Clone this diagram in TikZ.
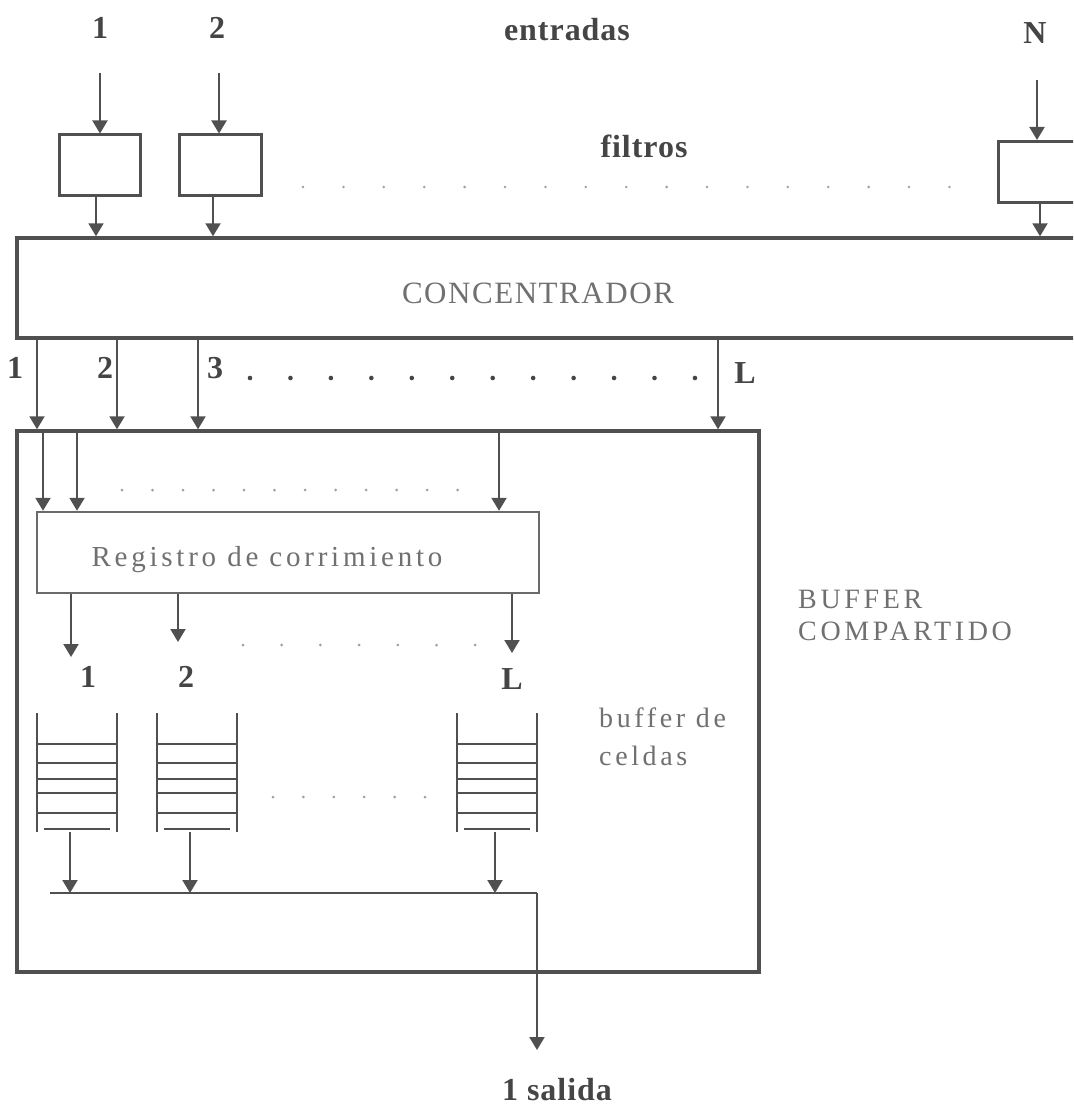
\documentclass[tikz,border=0pt]{standalone}
\usepackage{fontspec}
\setmainfont{Liberation Serif}
\newfontfamily\lblfont[LetterSpace=3]{Liberation Serif}
\newfontfamily\grayfont[LetterSpace=13]{Liberation Serif}
\newfontfamily\concfont[LetterSpace=5]{Liberation Serif}
\usetikzlibrary{arrows.meta,calc}
\definecolor{ln}{HTML}{505050}
\definecolor{tx}{HTML}{454545}
\definecolor{gt}{HTML}{707070}
\definecolor{dt}{HTML}{A0A0A0}
\begin{document}
\begin{tikzpicture}[x=1pt,y=-1pt,
  box/.style={draw=ln,line width=3.4pt,inner sep=0pt},
  fbox/.style={draw=ln,line width=3pt,inner sep=0pt},
  rbox/.style={draw=ln!85,line width=2.4pt,inner sep=0pt},
  arr/.style={draw=ln,line width=2pt,-{Triangle[width=15pt,length=13pt]}},
  qline/.style={draw=ln,line width=2.6pt},
  lbl/.style={font=\lblfont\bfseries\fontsize{32}{36}\selectfont,text=tx,inner sep=0pt},
  gtxt/.style={font=\grayfont\fontsize{29}{32}\selectfont,text=gt,align=left,inner sep=0pt},
  ctxt/.style={font=\concfont\fontsize{31}{34}\selectfont,text=gt,inner sep=0pt}]
\useasboundingbox (0,0) rectangle (1073,1110);
\clip (0,0) rectangle (1073,1110);
\fill[white] (0,0) rectangle (1073,1110);

% top labels
\node[lbl] (i1) at (100,28) {1};
\node[lbl] (i2) at (217,28) {2};
\node[lbl] (ent) at (567,30) {entradas};
\node[lbl] (iN) at (1035,33) {N};
\node[lbl] (filt) at (644,146) {filtros};

% filters
\node[fbox,minimum width=81pt,minimum height=60pt] (f1) at (99.5,165) {};
\node[fbox,minimum width=82pt,minimum height=60pt] (f2) at (220,165) {};
\node[fbox,minimum width=88pt,minimum height=61pt] (fN) at (1042,172) {};
\coordinate (s1) at (100,73);
\coordinate (s2) at (219,73);
\coordinate (sN) at (1037,80);
\draw[arr] (s1) -- (100,0 |- f1.north);
\draw[arr] (s2) -- (219,0 |- f2.north);
\draw[arr] (sN) -- (1037,0 |- fN.north);
\foreach \i in {0,...,16} \fill[dt] (303+\i*40.4,187) circle (1.4pt);

% concentrador
\node[box,minimum width=1073pt,minimum height=100pt] (conc) at (553.5,288) {};
\node[ctxt] (conct) at (538,293) {CONCENTRADOR};
\draw[arr] (96,0 |- f1.south) -- (96,0 |- conc.north);
\draw[arr] (213,0 |- f2.south) -- (213,0 |- conc.north);
\draw[arr] (1040,0 |- fN.south) -- (1040,0 |- conc.north);

% buffer compartido
\node[box,minimum width=742pt,minimum height=541pt] (buf) at (388,701.5) {};
\node[gtxt,anchor=west,font=\grayfont\fontsize{28}{32}\selectfont] (buft) at (798,615) {BUFFER\\COMPARTIDO};
\foreach \x in {37,117,198,718} \draw[arr] (\x,0 |- conc.south) -- (\x,0 |- buf.north);
\node[lbl] (c1) at (15,368) {1};
\node[lbl] (c2) at (105,368) {2};
\node[lbl] (c3) at (215,368) {3};
\node[lbl] (cL) at (745,373) {L};
\foreach \i in {0,...,11} \fill[tx] (250+\i*40.45,378) circle (2.3pt);

% registro de corrimiento
\node[rbox,minimum width=502pt,minimum height=81pt] (reg) at (288,552.5) {};
\node[gtxt] (regt) at (267,560) {Registro de corrimiento};
\foreach \x in {43,77,499} \draw[arr] (\x,0 |- buf.north) -- (\x,0 |- reg.north);
\foreach \i in {0,...,11} \fill[dt] (122+\i*30.5,490) circle (1.5pt);

\coordinate (r1) at (71,657);
\coordinate (r2) at (178,642);
\coordinate (rL) at (512,653);
\draw[arr] (71,0 |- reg.south) -- (r1);
\draw[arr] (178,0 |- reg.south) -- (r2);
\draw[arr] (512,0 |- reg.south) -- (rL);
\node[lbl] (l1) at (88,677) {1};
\node[lbl] (l2) at (186,677) {2};
\node[lbl] (lL) at (512,679) {L};
\foreach \i in {0,...,6} \fill[dt] (243+\i*38.7,645) circle (1.5pt);

% queues
\foreach \n/\x in {q1/37,q2/157,qL/457}{
  \node[inner sep=0pt,minimum width=80pt,minimum height=119pt] (\n) at (\x+40,772.5) {};
  \draw[qline] (\x,713) -- (\x,832) (\x+80,713) -- (\x+80,832);
  \foreach \y in {744,763,779,793,813} \draw[qline] (\x,\y) -- (\x+80,\y);
  \draw[qline] (\x+7,829) -- (\x+73,829);
}
\foreach \i in {0,...,5} \fill[dt] (273+\i*30.4,797) circle (1.5pt);
\node[gtxt,anchor=west,font=\grayfont\fontsize{28}{38}\selectfont] (bc) at (599,737) {buffer de\\celdas};

% collector and output
\coordinate (kL) at (50,893);
\coordinate (kR) at (537,893);
\coordinate (out) at (537,1050);
\draw[arr] (70,0 |- q1.south) -- (70,0 |- kL);
\draw[arr] (190,0 |- q2.south) -- (190,0 |- kL);
\draw[arr] (495,0 |- qL.south) -- (495,0 |- kL);
\draw[draw=ln,line width=2pt] (kL) -- (kR);
\draw[arr] (kR) -- (out);
\node[lbl] (sal) at (557,1090) {1 salida};
\end{tikzpicture}
\end{document}
